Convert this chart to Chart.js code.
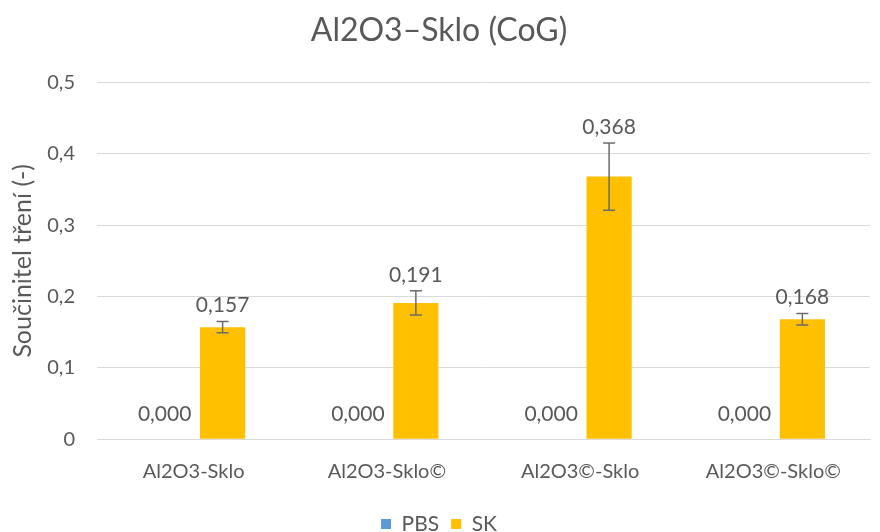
<!DOCTYPE html>
<html lang="cs">
<head>
<meta charset="UTF-8">
<title>Al2O3–Sklo (CoG)</title>
<script src="https://cdn.jsdelivr.net/npm/chart.js"></script>
<style>
  body { margin: 0; background: #fff; }
</style>
</head>
<body>
<canvas id="graf" width="880" height="532"></canvas>
<script>
const kategorie = ["Al2O3-Sklo", "Al2O3-Sklo©", "Al2O3©-Sklo", "Al2O3©-Sklo©"];
const pbs = [0, 0, 0, 0];
const sk = [0.157, 0.191, 0.368, 0.168];
const skChyba = [0.008, 0.017, 0.047, 0.008];
const yTicks = [0, 0.1, 0.2, 0.3, 0.4, 0.5];

const sedy = "#595959";
const pismo = "Lato, 'Open Sans', sans-serif";

const fmt = v => v.toFixed(3).replace(".", ",");

// chybove usecky + popisky hodnot
const popisky = {
  id: "popisky",
  afterDatasetsDraw(chart) {
    const ctx = chart.ctx;
    const y = chart.scales.y;
    ctx.save();
    chart.data.datasets.forEach((ds, di) => {
      const meta = chart.getDatasetMeta(di);
      meta.data.forEach((bar, i) => {
        const v = ds.data[i];
        const err = ds.chyby ? ds.chyby[i] : 0;
        let stred = y.getPixelForValue(v) - 25;
        if (err) {
          const y1 = y.getPixelForValue(v + err);
          const y2 = y.getPixelForValue(v - err);
          ctx.strokeStyle = "#6b6b6b";
          ctx.lineWidth = 1.5;
          ctx.beginPath();
          ctx.moveTo(bar.x, y1); ctx.lineTo(bar.x, y2);
          ctx.moveTo(bar.x - 6, y1); ctx.lineTo(bar.x + 6, y1);
          ctx.moveTo(bar.x - 6, y2); ctx.lineTo(bar.x + 6, y2);
          ctx.stroke();
          stred = y1 - 16;
        }
        ctx.fillStyle = sedy;
        ctx.font = "21px " + pismo;
        ctx.textAlign = "center";
        ctx.textBaseline = "middle";
        ctx.fillText(fmt(v), bar.x, stred);
      });
    });
    ctx.restore();
  }
};

new Chart(document.getElementById("graf"), {
  type: "bar",
  data: {
    labels: kategorie,
    datasets: [
      { label: "PBS", data: pbs, backgroundColor: "#5B9BD5" },
      { label: "SK", data: sk, chyby: skChyba, backgroundColor: "#FFC000" }
    ]
  },
  options: {
    responsive: false,
    animation: false,
    layout: { padding: { left: 8, right: 10, top: 0, bottom: -12.6 } },
    datasets: { bar: { barPercentage: 0.78, categoryPercentage: 0.6 } },
    plugins: {
      title: {
        display: true,
        text: "Al2O3–Sklo (CoG)",
        color: sedy,
        font: { family: pismo, size: 32, weight: "normal" },
        padding: { top: 11, bottom: 33 }
      },
      legend: {
        position: "bottom",
        labels: {
          color: sedy,
          font: { family: pismo, size: 21 },
          boxWidth: 10,
          boxHeight: 10,
          padding: 12
        }
      },
      tooltip: { enabled: false }
    },
    scales: {
      x: {
        afterFit: s => { s.height = 62.4; },
        grid: { display: false },
        border: { color: "#d9d9d9", width: 1 },
        ticks: { color: sedy, font: { family: pismo, size: 20 }, padding: 12 }
      },
      y: {
        min: 0,
        max: 0.5,
        afterBuildTicks: s => { s.ticks = yTicks.map(v => ({ value: v })); },
        afterFit: s => { s.width = 89; },
        border: { display: false },
        grid: { color: "#d9d9d9", drawTicks: false },
        ticks: {
          color: sedy,
          font: { family: pismo, size: 20 },
          padding: 22,
          callback: v => v === 0 ? "0" : String(v).replace(".", ",")
        },
        title: {
          display: true,
          text: "Součinitel tření (-)",
          color: sedy,
          font: { family: pismo, size: 25 },
          padding: { top: 0, bottom: 2 }
        }
      }
    }
  },
  plugins: [popisky]
});
</script>
</body>
</html>
